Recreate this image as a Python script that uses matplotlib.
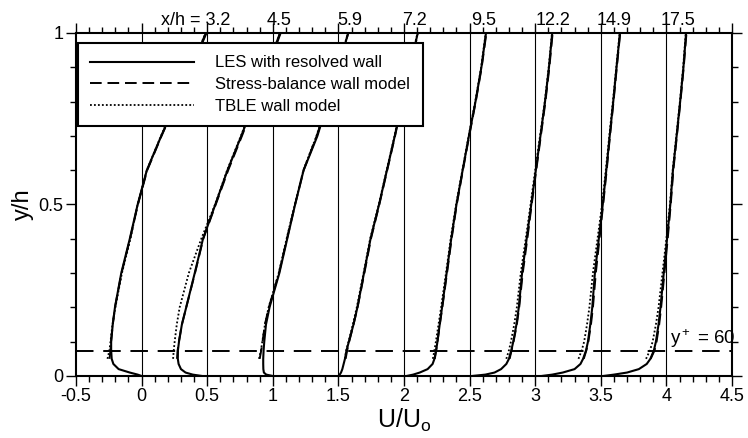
import numpy as np
import matplotlib.pyplot as plt
from matplotlib.ticker import MultipleLocator

plt.rcParams['font.family'] = ['Liberation Sans', 'DejaVu Sans']
plt.rcParams['mathtext.fontset'] = 'custom'
plt.rcParams['mathtext.rm'] = 'Liberation Sans'
plt.rcParams['mathtext.it'] = 'Liberation Sans:italic'

# streamwise stations, each profile shifted by 0.5 in U/Uo
stations = ['x/h = 3.2', '4.5', '5.9', '7.2', '9.5', '12.2', '14.9', '17.5']
offsets = [0.0, 0.5, 1.0, 1.5, 2.0, 2.5, 3.0, 3.5]
yplus60 = 0.073

# LES with resolved wall
y_les = [0, 0.004, 0.01, 0.02, 0.035, 0.05, 0.075, 0.1, 0.15, 0.2,
         0.3, 0.4, 0.5, 0.6, 0.7, 0.8, 0.9, 1.0]
les_u = [
    [0.0, -0.03, -0.09, -0.175, -0.215, -0.228, -0.232, -0.232, -0.22, -0.203,
     -0.155, -0.09, -0.03, 0.04, 0.15, 0.265, 0.38, 0.49],
    [0.46, 0.39, 0.335, 0.3, 0.282, 0.276, 0.277, 0.285, 0.307, 0.34,
     0.405, 0.468, 0.562, 0.655, 0.76, 0.86, 0.96, 1.055],
    [1.0, 0.95, 0.932, 0.928, 0.927, 0.927, 0.93, 0.935, 0.948, 0.975,
     1.05, 1.11, 1.17, 1.235, 1.34, 1.42, 1.5, 1.575],
    [1.5, 1.51, 1.52, 1.53, 1.54, 1.55, 1.562, 1.58, 1.615, 1.645,
     1.695, 1.745, 1.81, 1.87, 1.93, 1.985, 2.045, 2.105],
    [2.02, 2.07, 2.12, 2.18, 2.218, 2.232, 2.245, 2.255, 2.272, 2.29,
     2.325, 2.36, 2.4, 2.447, 2.495, 2.545, 2.59, 2.625],
    [2.52, 2.62, 2.69, 2.74, 2.78, 2.8, 2.818, 2.833, 2.857, 2.875,
     2.9, 2.935, 2.97, 3.005, 3.04, 3.075, 3.105, 3.13],
    [3.05, 3.13, 3.21, 3.3, 3.345, 3.365, 3.388, 3.402, 3.42, 3.435,
     3.455, 3.485, 3.515, 3.542, 3.568, 3.595, 3.62, 3.646],
    [3.52, 3.6, 3.7, 3.79, 3.85, 3.878, 3.905, 3.92, 3.94, 3.955,
     3.98, 4.005, 4.03, 4.05, 4.078, 4.105, 4.13, 4.15],
]

# wall-modelled LES (outer region only)
y_wm = [0.05, 0.075, 0.1, 0.15, 0.2, 0.3, 0.4, 0.5, 0.6, 0.7, 0.8, 0.9, 1.0]
sb_u = [
    [-0.245, -0.237, -0.233, -0.22, -0.203, -0.153, -0.088, -0.028, 0.043, 0.152, 0.268, 0.383, 0.495],
    [0.27, 0.275, 0.284, 0.307, 0.34, 0.407, 0.47, 0.565, 0.66, 0.765, 0.865, 0.965, 1.06],
    [0.9, 0.912, 0.922, 0.94, 0.97, 1.047, 1.108, 1.17, 1.235, 1.335, 1.42, 1.5, 1.575],
    [1.555, 1.567, 1.582, 1.615, 1.646, 1.698, 1.748, 1.812, 1.872, 1.932, 1.987, 2.047, 2.107],
    [2.235, 2.245, 2.255, 2.273, 2.292, 2.328, 2.363, 2.402, 2.449, 2.497, 2.547, 2.592, 2.628],
    [2.805, 2.82, 2.835, 2.86, 2.878, 2.905, 2.94, 2.973, 3.008, 3.043, 3.078, 3.108, 3.133],
    [3.37, 3.39, 3.405, 3.425, 3.44, 3.462, 3.49, 3.518, 3.545, 3.57, 3.597, 3.622, 3.648],
    [3.88, 3.91, 3.925, 3.945, 3.96, 3.985, 4.01, 4.033, 4.053, 4.08, 4.107, 4.132, 4.153],
]
tble_u = [
    [-0.26, -0.245, -0.237, -0.222, -0.2, -0.15, -0.085, -0.03, 0.04, 0.148, 0.262, 0.378, 0.488],
    [0.24, 0.245, 0.252, 0.268, 0.29, 0.36, 0.455, 0.56, 0.652, 0.757, 0.858, 0.958, 1.055],
    [0.895, 0.91, 0.92, 0.94, 0.968, 1.045, 1.105, 1.168, 1.233, 1.333, 1.418, 1.498, 1.573],
    [1.55, 1.56, 1.577, 1.61, 1.64, 1.692, 1.742, 1.808, 1.868, 1.928, 1.983, 2.043, 2.103],
    [2.22, 2.232, 2.243, 2.263, 2.283, 2.32, 2.356, 2.397, 2.445, 2.493, 2.543, 2.588, 2.623],
    [2.78, 2.8, 2.815, 2.84, 2.86, 2.89, 2.928, 2.965, 3.0, 3.037, 3.073, 3.103, 3.128],
    [3.33, 3.355, 3.373, 3.395, 3.413, 3.44, 3.475, 3.51, 3.538, 3.565, 3.592, 3.618, 3.644],
    [3.845, 3.875, 3.895, 3.92, 3.94, 3.97, 4.0, 4.027, 4.048, 4.076, 4.103, 4.128, 4.148],
]

# where the station labels sit along the top
label_x = [0.675, 1.05, 1.59, 2.08, 2.61, 3.14, 3.6, 4.09]
label_ha = ['right'] + ['center'] * 7

xticks = [-0.5, 0, 0.5, 1, 1.5, 2, 2.5, 3, 3.5, 4, 4.5]
xticklabels = ['-0.5', '0', '0.5', '1', '1.5', '2', '2.5', '3', '3.5', '4', '4.5']
yticks = [0, 0.5, 1]
yticklabels = ['0', '0.5', '1']

fig = plt.figure(figsize=(7.48, 4.38), dpi=100)
ax = fig.add_axes([0.1016, 0.1416, 0.877, 0.7831])

for xv in offsets + [4.0]:
    ax.axvline(xv, color='k', lw=0.8, zorder=1)

ax.axhline(yplus60, color='k', lw=1.4, dashes=(9, 5), zorder=2)

for i in range(len(offsets)):
    ax.plot(les_u[i], y_les, color='k', lw=1.5, zorder=3,
            label='LES with resolved wall' if i == 0 else None)
    ax.plot(sb_u[i], y_wm, color='k', lw=1.4, dashes=(6, 3), zorder=3,
            label='Stress-balance wall model' if i == 0 else None)
    ax.plot(tble_u[i], y_wm, color='k', lw=1.3, dashes=(1, 1.2), zorder=3,
            label='TBLE wall model' if i == 0 else None)

for lab, lx, ha in zip(stations, label_x, label_ha):
    ax.text(lx, 1.024, lab, transform=ax.get_xaxis_transform(),
            ha=ha, va='baseline', fontsize=13)

ax.text(4.03, 0.075, r'y$^+$ = 60', fontsize=13.5, ha='left', va='bottom')

ax.set_xlim(-0.5, 4.5)
ax.set_ylim(0, 1)
ax.set_xticks(xticks)
ax.set_xticklabels(xticklabels)
ax.set_yticks(yticks)
ax.set_yticklabels(yticklabels)
ax.xaxis.set_minor_locator(MultipleLocator(0.1))
ax.yaxis.set_minor_locator(MultipleLocator(0.1))
ax.tick_params(which='both', direction='out', top=True, right=True,
               labelsize=13, width=1.0, pad=2)
ax.tick_params(which='major', length=7)
ax.tick_params(which='minor', length=4)
for sp in ax.spines.values():
    sp.set_linewidth(1.5)

ax.set_xlabel(r'U/U$_{\rm o}$', fontsize=18, labelpad=1)
ax.set_ylabel('y/h', fontsize=17, labelpad=3)

leg = ax.legend(loc='upper left', bbox_to_anchor=(0.003, 0.971),
                borderaxespad=0, fontsize=12, handlelength=6.2,
                handletextpad=1.3, borderpad=0.75, labelspacing=0.4,
                fancybox=False, edgecolor='k', framealpha=1)
leg.get_frame().set_linewidth(1.5)
leg.set_zorder(5)

fig.savefig('out.png', dpi=100)
